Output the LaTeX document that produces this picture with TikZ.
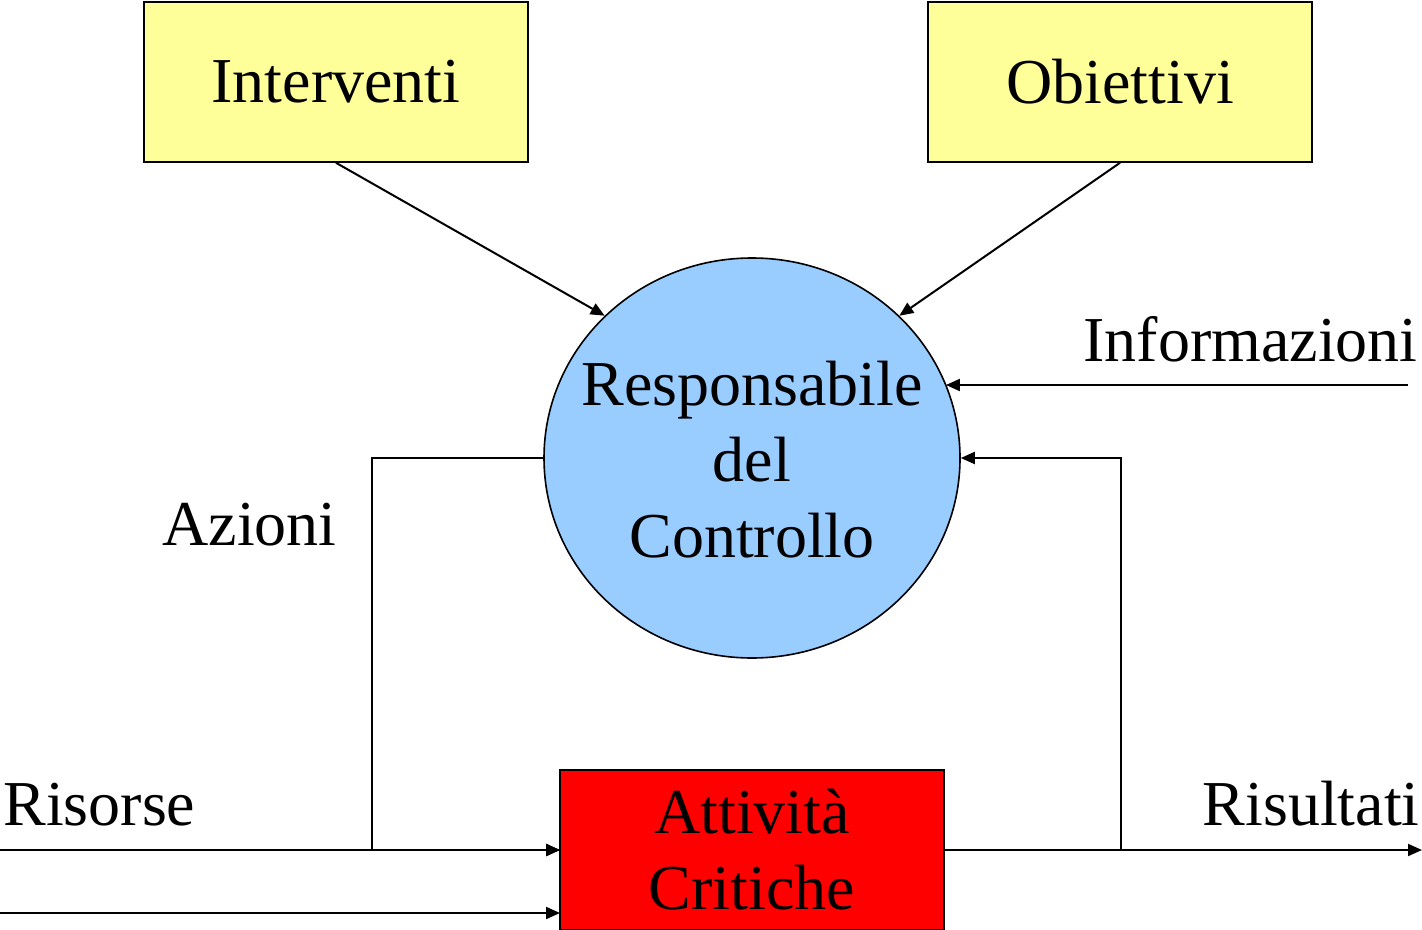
\documentclass[tikz,border=0pt]{standalone}
\usepackage{fontspec}
\setmainfont{Liberation Serif}
\usetikzlibrary{shapes.geometric,arrows.meta}
\begin{document}
\begin{tikzpicture}[x=0.5pt,y=-0.5pt,
  every node/.style={font=\fontsize{32}{38}\selectfont},
  ybox/.style={draw=black,line width=0.8pt,fill=yellowbox,minimum width=192pt,minimum height=80pt,inner sep=0pt},
  rbox/.style={draw=black,line width=0.8pt,fill=red,minimum width=192pt,minimum height=80pt,inner sep=0pt,align=center},
  circ/.style={ellipse,draw=black,line width=0.8pt,fill=bluecirc,minimum width=208pt,minimum height=200pt,inner sep=0pt},
  ctext/.style={align=center,inner sep=0pt},
  conn/.style={line width=1pt,-{Triangle[length=7pt,width=6pt]}},
  lbl/.style={inner sep=0pt}
]
\definecolor{yellowbox}{HTML}{FFFF99}
\definecolor{bluecirc}{HTML}{99CCFF}
\useasboundingbox (0,0) rectangle (1422,930);
\node[ybox] (int) at (336,82) {\raisebox{-2pt}{Interventi}};
\node[ybox] (obi) at (1120,82) {\raisebox{-2pt}{Obiettivi}};
\node[circ] (rc) at (752,458) {};
\node[ctext] (rct) at (752,460) {Responsabile\\del\\Controllo};
\node[rbox] (att) at (752,850) {Attività\\Critiche};
\coordinate (info) at (1408,385);
\coordinate (az) at (372,850);
\coordinate (fb) at (1121,850);
\coordinate (res) at (1422,850);
\coordinate (r1) at (0,850);
\coordinate (r2) at (0,913);
\coordinate (attw) at (560,850);
\coordinate (atte) at (944,850);
\draw[conn] (int.south) -- (rc.136);
\draw[conn] (obi.south) -- (rc.44);
\draw[conn] (info) -- (info -| rc.21);
\draw[conn] (rc.west) -| (az) -- (attw);
\draw[conn] (r1) -- (attw);
\draw[conn] (r2) -- (r2 -| attw);
\draw[line width=1pt] (atte) -- (fb);
\draw[conn] (fb) -- (res);
\draw[conn] (fb) |- (rc.east);
\node[lbl,anchor=base east] (linfo) at (1418,361) {Informazioni};
\node[lbl,anchor=base west] (laz) at (162,545) {Azioni};
\node[lbl,anchor=base west] (lris) at (3,825) {Risorse};
\node[lbl,anchor=base east] (lrisu) at (1420,825) {Risultati};
\end{tikzpicture}
\end{document}
